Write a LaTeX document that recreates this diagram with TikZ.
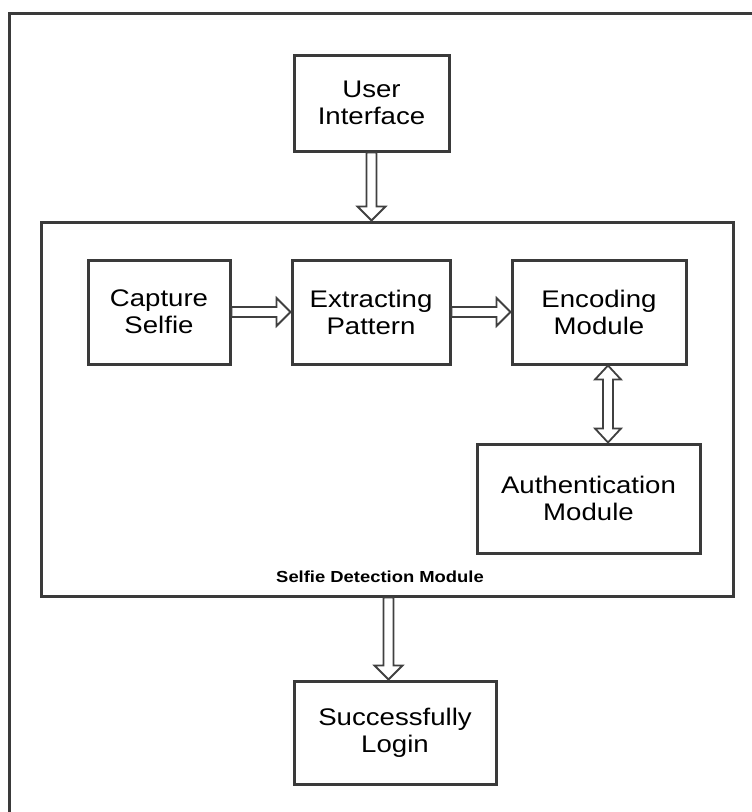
\documentclass[tikz,border=0pt]{standalone}
\usepackage{fontspec}
\setmainfont{Liberation Sans}[FakeStretch=1.15]
\usetikzlibrary{calc}
\definecolor{linecol}{HTML}{3A3A3A}
\definecolor{arrcol}{HTML}{404040}
\tikzset{
  box/.style={draw=linecol, line width=3pt, align=center, inner sep=0pt,
    font=\fontsize{24}{27}\selectfont, text=black},
  fatarrow/.style={draw=arrcol, line width=1.8pt, fill=white, line join=miter,
    to path={let \p1=(\tikztostart), \p2=(\tikztotarget),
      \n1={atan2(\y2-\y1,\x2-\x1)} in
      ($(\p1)+(\n1+90:5pt)$)
      -- ($(\p2)+(\n1+180:14pt)+(\n1+90:5pt)$)
      -- ($(\p2)+(\n1+180:14pt)+(\n1+90:14pt)$)
      -- (\p2)
      -- ($(\p2)+(\n1+180:14pt)+(\n1-90:14pt)$)
      -- ($(\p2)+(\n1+180:14pt)+(\n1-90:5pt)$)
      -- ($(\p1)+(\n1-90:5pt)$) -- cycle}},
  fatarrowboth/.style={draw=arrcol, line width=1.8pt, fill=white, line join=miter,
    to path={let \p1=(\tikztostart), \p2=(\tikztotarget),
      \n1={atan2(\y2-\y1,\x2-\x1)} in
      ($(\p1)+(\n1:14pt)+(\n1+90:5pt)$)
      -- ($(\p2)+(\n1+180:14pt)+(\n1+90:5pt)$)
      -- ($(\p2)+(\n1+180:14pt)+(\n1+90:13pt)$)
      -- (\p2)
      -- ($(\p2)+(\n1+180:14pt)+(\n1-90:13pt)$)
      -- ($(\p2)+(\n1+180:14pt)+(\n1-90:5pt)$)
      -- ($(\p1)+(\n1:14pt)+(\n1-90:5pt)$)
      -- ($(\p1)+(\n1:14pt)+(\n1-90:13pt)$)
      -- (\p1)
      -- ($(\p1)+(\n1:14pt)+(\n1+90:13pt)$) -- cycle}}
}
\begin{document}
\begin{tikzpicture}[x=1pt,y=-1pt]
\useasboundingbox (0,0) rectangle (752,812);
% outer frame (only top and left edges visible)
\draw[draw=linecol, line width=3.5pt] (9.5,812) -- (9.5,13.5) -- (752,13.5);

\node[box, minimum width=155pt, minimum height=96pt] (ui) at (371.5,103) {User\\Interface};
\node[draw=linecol, line width=3pt, minimum width=692pt, minimum height=374pt, inner sep=0pt] (sdm) at (387,409) {};
\node[font=\fontsize{16}{18}\selectfont\bfseries, text=black] (sdmlabel) at (380,577) {Selfie Detection Module};

\node[box, minimum width=142pt, minimum height=104pt] (cap) at (159,312) {Capture\\Selfie};
\node[box, minimum width=158pt, minimum height=104pt] (ext) at (371,312) {Extracting\\Pattern};
\node[box, minimum width=174pt, minimum height=104pt] (enc) at (599,312) {Encoding\\Module};
\node[box, minimum width=223pt, minimum height=109pt] (auth) at (588.5,498.5) {Authentication\\Module};
\node[box, minimum width=202pt, minimum height=103pt] (login) at (395,732.5) {Successfully\\Login};

\draw[fatarrow] (ui.south) to (ui.south |- sdm.north);
\draw[fatarrow] (cap.east) to (ext.west);
\draw[fatarrow] (ext.east) to (enc.west);
\draw[fatarrowboth] ([xshift=9pt]enc.south) to ([xshift=9pt]enc.south |- auth.north);
\draw[fatarrow] ([xshift=1.5pt]sdm.south) to ([xshift=1.5pt]sdm.south |- login.north);
\end{tikzpicture}
\end{document}
